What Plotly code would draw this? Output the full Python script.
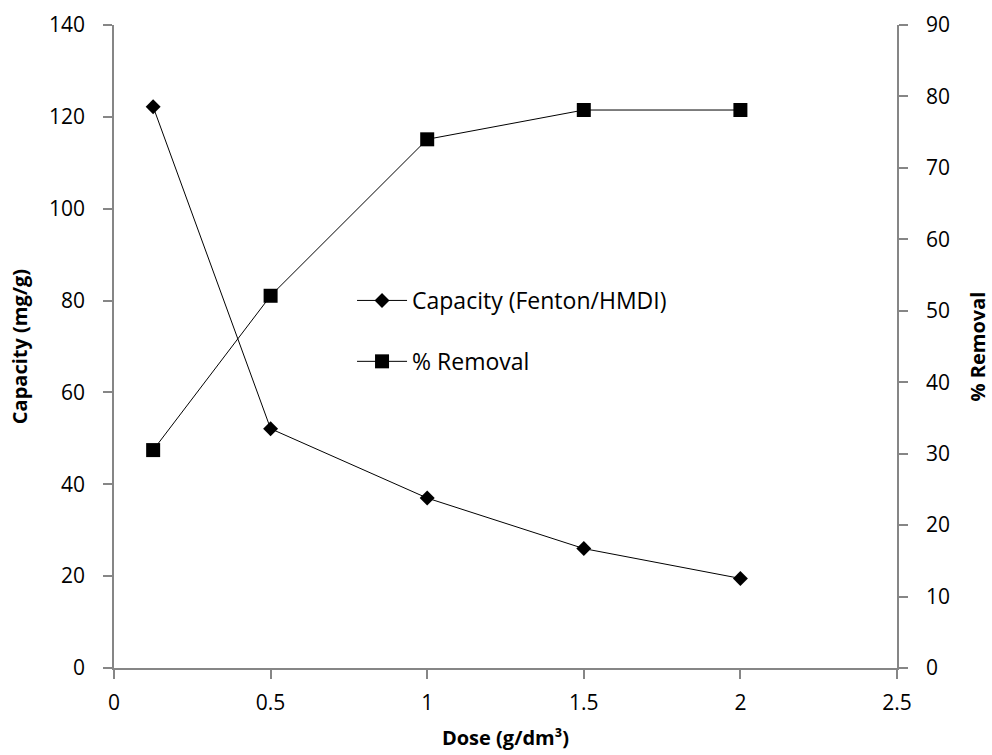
import plotly.graph_objects as go

dose = [0.125, 0.5, 1.0, 1.5, 2.0]
capacity = [122.2, 52.1, 37.0, 26.0, 19.5]
removal = [30.5, 52.1, 74.0, 78.1, 78.1]

FONT = "Open Sans"
AXIS_COLOR = "#868686"

fig = go.Figure()
fig.add_trace(go.Scatter(
    x=dose, y=capacity, name="Capacity (Fenton/HMDI)", mode="lines+markers",
    line=dict(color="black", width=1),
    marker=dict(symbol="diamond", size=11.5, color="black"),
    legendgroup="a", yaxis="y"))
fig.add_trace(go.Scatter(
    x=dose, y=removal, name="% Removal", mode="lines+markers",
    line=dict(color="black", width=1),
    marker=dict(symbol="square", size=14, color="black"),
    legendgroup="b", yaxis="y2"))

axis_common = dict(showgrid=False, zeroline=False, showline=True, linecolor=AXIS_COLOR,
                   linewidth=1.5, ticks="outside", tickcolor=AXIS_COLOR, ticklen=9,
                   tickwidth=1.5, tickfont=dict(family=FONT, size=21, color="black"),
                   automargin=False)

fig.update_layout(
    width=992, height=755,
    margin=dict(l=114, r=95, t=25, b=87),
    paper_bgcolor="white", plot_bgcolor="white",
    font=dict(family=FONT, color="black"),
    xaxis=dict(range=[0, 2.5], tickvals=[0, 0.5, 1, 1.5, 2, 2.5], ticktext=["0", "0.5", "1", "1.5", "2", "2.5"],
               title=dict(text="<b>Dose (g/dm³)</b>", font=dict(family=FONT, size=20), standoff=16),
               ticklabelstandoff=6, **axis_common),
    yaxis=dict(range=[0, 140], dtick=20,
               title=dict(text="<b>Capacity (mg/g)</b>", font=dict(family=FONT, size=20), standoff=16),
               ticklabelstandoff=14, **axis_common),
    yaxis2=dict(range=[0, 90], dtick=10, overlaying="y", side="right",
                title=dict(text="<b>% Removal</b>", font=dict(family=FONT, size=20), standoff=22),
                ticklabelstandoff=14, **axis_common),
    legend=dict(x=0.304, y=0.605, xanchor="left", yanchor="top", bgcolor="rgba(0,0,0,0)",
                font=dict(family=FONT, size=23), itemwidth=50, tracegroupgap=28,
                traceorder="grouped"),
    showlegend=True,
)

fig.write_html("out.html")
